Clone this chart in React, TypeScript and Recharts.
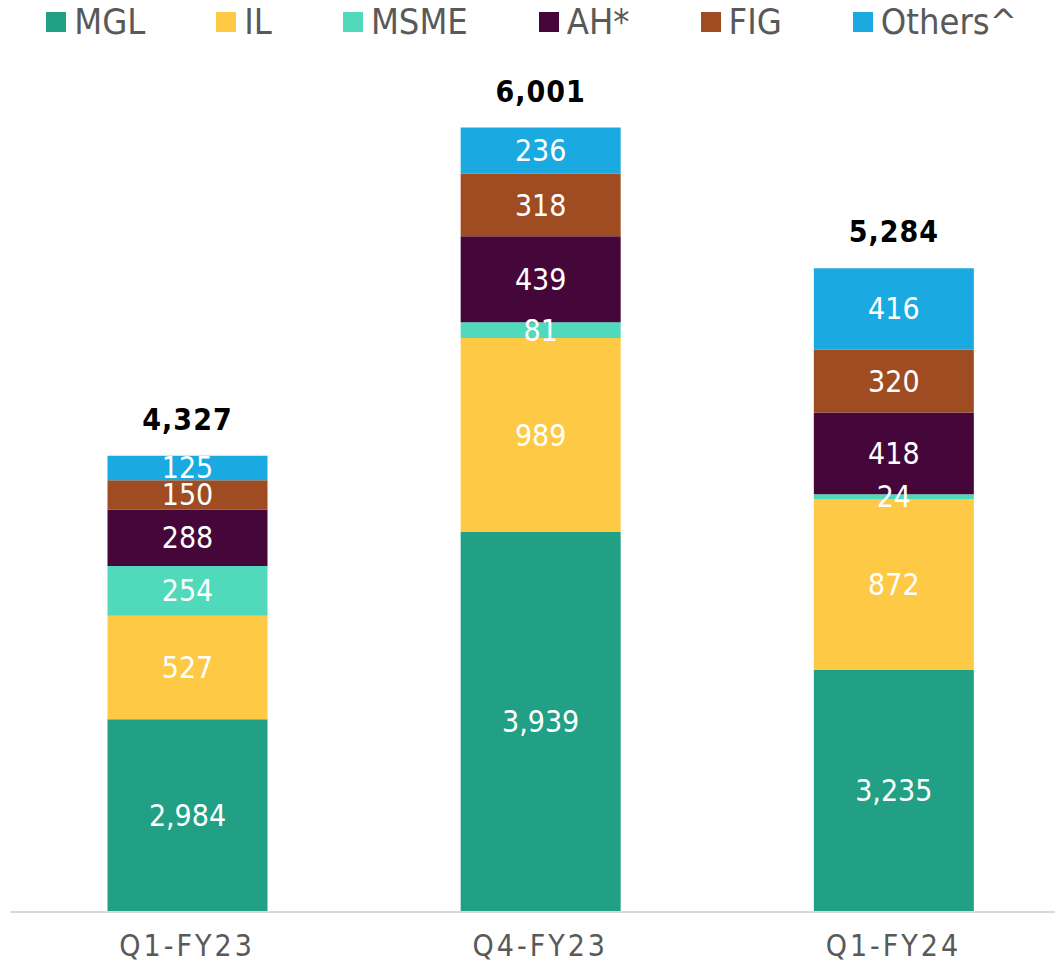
import { BarChart, Bar, XAxis, YAxis, Legend, LabelList } from 'recharts';

const categories = ['Q1-FY23', 'Q4-FY23', 'Q1-FY24'];
const mgl = [2984, 3939, 3235];
const il = [527, 989, 872];
const msme = [254, 81, 24];
const ah = [288, 439, 418];
const fig = [150, 318, 320];
const others = [125, 236, 416];
const totals = [4327, 6001, 5284];

const seriesList = [
  { key: 'mgl', name: 'MGL', color: '#22A085' },
  { key: 'il', name: 'IL', color: '#FEC944' },
  { key: 'msme', name: 'MSME', color: '#50D9BB' },
  { key: 'ah', name: 'AH*', color: '#450639' },
  { key: 'fig', name: 'FIG', color: '#A04C23' },
  { key: 'others', name: 'Others^', color: '#1AA9E0' },
];

const data = categories.map((name, i) => ({
  name,
  mgl: mgl[i],
  il: il[i],
  msme: msme[i],
  ah: ah[i],
  fig: fig[i],
  others: others[i],
  total: totals[i],
}));

const FONT = '"DejaVu Sans Condensed", "DejaVu Sans", sans-serif';
const CHART_W = 1070;
const CHART_H = 969;
const XAXIS_H = 57;
const PLOT_BOTTOM = CHART_H - XAXIS_H;

const fmt = (v: number) => v.toLocaleString('en-US');

// label centred in the part of the segment that is inside the plot
const ClippedCenterLabel = (props: any) => {
  const { x, y, width, height, value } = props;
  const bottom = Math.min(y + height, PLOT_BOTTOM);
  const cy = (y + bottom) / 2;
  return (
    <text
      x={x + width / 2}
      y={cy}
      textAnchor="middle"
      dominantBaseline="central"
      fill="#ffffff"
      fontSize={30}
      fontFamily={FONT}
    >
      {fmt(value)}
    </text>
  );
};

const renderLegend = () => (
  <div
    style={{
      display: 'flex',
      justifyContent: 'center',
      gap: 71,
      fontFamily: FONT,
      fontSize: 36,
      color: '#595959',
    }}
  >
    {seriesList.map((s) => (
      <div key={s.key} style={{ display: 'flex', alignItems: 'center', gap: 8 }}>
        <span style={{ width: 20, height: 20, background: s.color, display: 'inline-block' }} />
        <span>{s.name}</span>
      </div>
    ))}
  </div>
);

export default function App() {
  return (
    <div style={{ margin: -8, width: 1063, height: 969, overflow: 'hidden', background: '#fff' }}>
      <BarChart
        width={CHART_W}
        height={CHART_H}
        data={data}
        margin={{ top: 30, right: 0, bottom: 0, left: 10.5 }}
        barSize={160}
      >
        <XAxis
          dataKey="name"
          height={XAXIS_H}
          axisLine={{ stroke: '#d9d9d9', strokeWidth: 2 }}
          tickLine={false}
          tickMargin={17}
          tick={{ fill: '#595959', fontSize: 30, fontFamily: FONT, letterSpacing: 3 }}
        />
        <YAxis hide domain={[2000, 6500]} allowDataOverflow />
        <Legend
          verticalAlign="middle"
          align="center"
          content={renderLegend}
          wrapperStyle={{ top: 1, left: 0, width: 1063 }}
        />
        {seriesList.map((s, idx) => (
          <Bar
            key={s.key}
            dataKey={s.key}
            name={s.name}
            stackId="a"
            fill={s.color}
            isAnimationActive={false}
          >
            <LabelList dataKey={s.key} content={ClippedCenterLabel} />
            {idx === seriesList.length - 1 && (
              <LabelList
                dataKey="total"
                position="top"
                offset={26}
                formatter={(v: any) => fmt(v)}
                fill="#000000"
                fontSize={30}
                fontWeight="bold"
                fontFamily={FONT}
                letterSpacing={1}
              />
            )}
          </Bar>
        ))}
      </BarChart>
    </div>
  );
}
